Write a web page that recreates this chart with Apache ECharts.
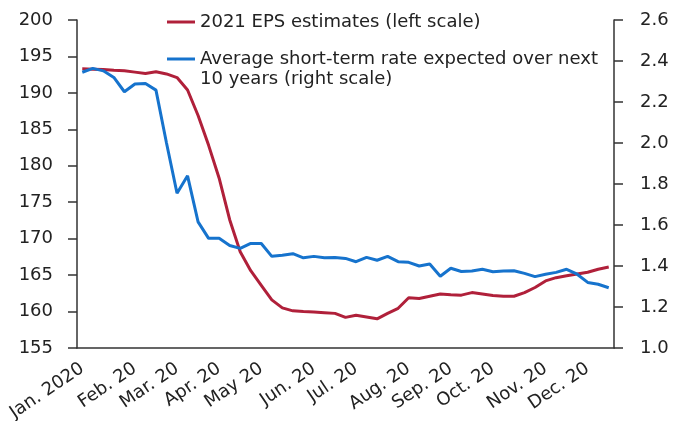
<!DOCTYPE html>
<html><head><meta charset="utf-8">
<script src="https://cdn.jsdelivr.net/npm/echarts@6/dist/echarts.min.js"></script>
<style>html,body{margin:0;padding:0;background:#fff}#c{width:674px;height:421px}</style>
</head><body><div id="c"></div>
<script>
// Weekly observations (Fridays, 2020)
const weeks = [
  '2020-01-03','2020-01-10','2020-01-17','2020-01-24','2020-01-31',
  '2020-02-07','2020-02-14','2020-02-21','2020-02-28',
  '2020-03-06','2020-03-13','2020-03-20','2020-03-27',
  '2020-04-03','2020-04-10','2020-04-17','2020-04-24',
  '2020-05-01','2020-05-08','2020-05-15','2020-05-22','2020-05-29',
  '2020-06-05','2020-06-12','2020-06-19','2020-06-26',
  '2020-07-03','2020-07-10','2020-07-17','2020-07-24','2020-07-31',
  '2020-08-07','2020-08-14','2020-08-21','2020-08-28',
  '2020-09-04','2020-09-11','2020-09-18','2020-09-25',
  '2020-10-02','2020-10-09','2020-10-16','2020-10-23','2020-10-30',
  '2020-11-06','2020-11-13','2020-11-20','2020-11-27',
  '2020-12-04','2020-12-11','2020-12-18'
];
// Month tick labels (shown at first week of each month)
const labelWeeks = ['2020-01-03','2020-02-07','2020-03-06','2020-04-03','2020-05-01','2020-06-05',
  '2020-07-03','2020-08-07','2020-09-04','2020-10-02','2020-11-06','2020-12-04'];
const labelTexts = ['Jan. 2020','Feb. 20','Mar. 20','Apr. 20','May 20','Jun. 20',
  'Jul. 20','Aug. 20','Sep. 20','Oct. 20','Nov. 20','Dec. 20'];

// 2021 EPS estimates (left scale)
const epsEstimates = [
  193.3,193.25,193.2,193.1,193.05,192.85,192.65,192.9,192.6,192.1,
  190.4,186.9,182.8,178.3,172.6,168.2,165.6,163.6,161.6,160.5,
  160.1,160.0,159.95,159.85,159.75,159.2,159.5,159.25,159.0,159.75,
  160.45,161.9,161.8,162.1,162.4,162.3,162.25,162.6,162.4,162.2,
  162.1,162.1,162.6,163.3,164.2,164.65,164.9,165.15,165.4,165.8,166.1
];
// Average short-term rate expected over next 10 years (right scale)
const shortRateExpected = [
  2.345,2.364,2.352,2.32,2.25,2.288,2.29,2.258,2.0,1.755,
  1.84,1.615,1.535,1.535,1.50,1.486,1.51,1.51,1.447,1.452,
  1.46,1.44,1.447,1.44,1.442,1.437,1.421,1.442,1.428,1.447,
  1.421,1.418,1.40,1.41,1.35,1.389,1.373,1.376,1.384,1.372,
  1.376,1.377,1.364,1.348,1.36,1.369,1.384,1.36,1.32,1.311,1.294
];

const leftAxis = {min: 155, max: 200, interval: 5};
const rightAxis = {min: 1.0, max: 2.6, interval: 0.2};

const EPS_NAME = '2021 EPS estimates (left scale)';
const RATE_NAME = 'Average short-term rate expected over next 10 years (right scale)';
const RED = '#B0203A', BLUE = '#1673CD';
const FONT = 'DejaVu Sans';
const AX = '#333';
const labelMap = {};
labelWeeks.forEach((w, i) => { labelMap[w] = labelTexts[i]; });

const chart = echarts.init(document.getElementById('c'), null, {renderer: 'canvas'});
chart.setOption({
  animation: false,
  backgroundColor: '#fff',
  grid: {left: 77, right: 60, top: 20, bottom: 73, outerBoundsMode: 'none', containLabel: false},
  legend: [
    {
      data: [{name: EPS_NAME}], left: 167, top: 12, padding: 0, orient: 'vertical',
      icon: 'rect', itemWidth: 28, itemHeight: 3,
      textStyle: {fontFamily: FONT, fontSize: 18, color: '#222', lineHeight: 20}
    },
    {
      data: [{name: RATE_NAME}], left: 167, top: 29, padding: 0, orient: 'vertical',
      icon: 'rect', itemWidth: 28, itemHeight: 3,
      // leading empty line keeps the icon level with the first text line
      formatter: () => '\nAverage short-term rate expected over next\n10 years (right scale)',
      textStyle: {fontFamily: FONT, fontSize: 18, color: '#222', lineHeight: 20}
    }
  ],
  xAxis: {
    type: 'category', data: weeks, boundaryGap: true,
    axisLine: {lineStyle: {color: AX, width: 1.5}},
    axisTick: {interval: 3, length: 7, lineStyle: {color: AX, width: 1.5}},
    axisLabel: {
      interval: (i, v) => labelMap[v] !== undefined,
      formatter: v => labelMap[v] || '',
      rotate: 34, margin: 19, fontFamily: FONT, fontSize: 18, color: '#222'
    },
    splitLine: {show: false}
  },
  yAxis: [
    {
      type: 'value', position: 'left', min: leftAxis.min, max: leftAxis.max, interval: leftAxis.interval,
      axisLine: {show: true, lineStyle: {color: AX, width: 1.5}},
      axisTick: {show: true, length: 9, lineStyle: {color: AX, width: 1.5}},
      axisLabel: {margin: 24, fontFamily: FONT, fontSize: 18, color: '#222'},
      splitLine: {show: false}
    },
    {
      type: 'value', position: 'right', min: rightAxis.min, max: rightAxis.max, interval: rightAxis.interval,
      axisLine: {show: true, lineStyle: {color: AX, width: 1.5}},
      axisTick: {show: true, length: 9, lineStyle: {color: AX, width: 1.5}},
      axisLabel: {margin: 26, fontFamily: FONT, fontSize: 18, color: '#222', formatter: v => v.toFixed(1)},
      splitLine: {show: false}
    }
  ],
  series: [
    {
      name: EPS_NAME, type: 'line', yAxisIndex: 0, data: epsEstimates,
      showSymbol: false, symbol: 'none', lineStyle: {color: RED, width: 3}, itemStyle: {color: RED}
    },
    {
      name: RATE_NAME, type: 'line', yAxisIndex: 1, data: shortRateExpected,
      showSymbol: false, symbol: 'none', lineStyle: {color: BLUE, width: 3}, itemStyle: {color: BLUE}
    }
  ]
});
</script>
</body></html>
